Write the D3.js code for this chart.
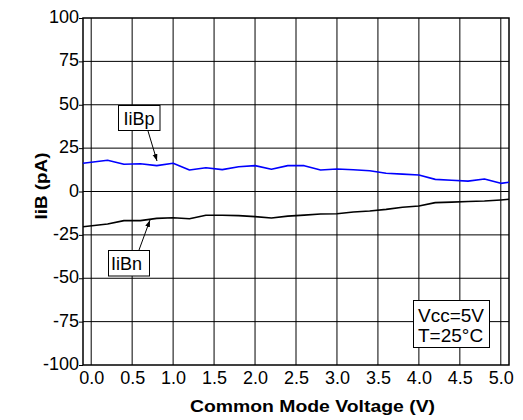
<!DOCTYPE html>
<html>
<head>
<meta charset="utf-8">
<script src="https://cdn.jsdelivr.net/npm/d3@7"></script>
<style>
  html, body { margin: 0; padding: 0; background: #fff; }
  svg { display: block; font-family: "Liberation Sans", Arial, Helvetica, sans-serif; }
</style>
</head>
<body>
<svg id="chart" width="523" height="420"></svg>
<script>
// ---- data ----
const voltage = [-0.1, 0.2, 0.4, 0.6, 0.8, 1.0, 1.2, 1.4, 1.6, 1.8, 2.0, 2.2, 2.4, 2.6, 2.8, 3.0, 3.2, 3.4, 3.6, 3.8, 4.0, 4.2, 4.4, 4.6, 4.8, 5.0, 5.1];
const iibp = [16.3, 18.0, 15.7, 16.0, 14.9, 16.3, 12.4, 13.7, 12.6, 14.3, 14.9, 12.8, 14.9, 14.9, 12.4, 13.0, 12.5, 12.0, 10.5, 10.0, 9.5, 7.0, 6.5, 6.0, 7.2, 4.7, 5.3];
const iibn = [-20.3, -18.7, -16.8, -16.8, -15.5, -15.1, -15.7, -13.7, -13.7, -13.9, -14.5, -15.3, -14.2, -13.6, -13.0, -12.8, -11.8, -11.2, -10.3, -9.1, -8.4, -6.4, -6.1, -5.8, -5.5, -4.9, -4.5];
const xTicks = [0, 0.5, 1.0, 1.5, 2.0, 2.5, 3.0, 3.5, 4.0, 4.5, 5.0];
const yTicks = [-100, -75, -50, -25, 0, 25, 50, 75, 100];
const xDomain = [-0.1, 5.1];
const yDomain = [-100, 100];
const xTitle = "Common Mode Voltage (V)";
const yTitle = "IiB (pA)";
const noteLines = ["Vcc=5V", "T=25°C"];

// ---- layout ----
const L = 83, R = 509, T = 18, B = 365;
const svg = d3.select("#chart");
const x = d3.scaleLinear().domain(xDomain).range([L, R]);
const y = d3.scaleLinear().domain(yDomain).range([B, T]);

svg.append("defs").append("marker")
  .attr("id", "arrow").attr("viewBox", "0 0 10 10")
  .attr("refX", 10).attr("refY", 5)
  .attr("markerWidth", 7).attr("markerHeight", 7)
  .attr("markerUnits", "userSpaceOnUse")
  .attr("orient", "auto")
  .append("path").attr("d", "M0,1.5 L10,5 L0,8.5 Z").attr("fill", "#000");

// grid
const grid = svg.append("g").attr("stroke", "#000").attr("stroke-width", 1);
grid.selectAll("line.v").data(xTicks).join("line")
  .attr("x1", d => x(d)).attr("x2", d => x(d)).attr("y1", T).attr("y2", B);
grid.selectAll("line.h").data(yTicks.filter(d => d > -100 && d < 100)).join("line")
  .attr("x1", L).attr("x2", R).attr("y1", d => y(d)).attr("y2", d => y(d));

// axes
const yAxis = svg.append("g").attr("transform", `translate(${L},0)`)
  .call(d3.axisLeft(y).tickValues(yTicks).tickSize(4).tickPadding(0).tickFormat(d => String(d)));
yAxis.select(".domain").remove();
yAxis.selectAll("line").attr("stroke", "#000");
yAxis.selectAll("text").attr("font-size", 18).attr("dy", "0.25em").attr("fill", "#000")
  .attr("font-family", "Liberation Sans, Arial, sans-serif");

const xAxis = svg.append("g").attr("transform", `translate(0,${B})`)
  .call(d3.axisBottom(x).tickValues(xTicks).tickSize(0).tickPadding(6).tickFormat(d3.format(".1f")));
xAxis.select(".domain").remove();
xAxis.selectAll("text").attr("font-size", 18).attr("fill", "#000")
  .attr("font-family", "Liberation Sans, Arial, sans-serif");

// frame
svg.append("rect").attr("x", L).attr("y", T).attr("width", R - L).attr("height", B - T)
  .attr("fill", "none").attr("stroke", "#000").attr("stroke-width", 1.5);

// lines
const line = d3.line().x((d, i) => x(voltage[i])).y(d => y(d));
svg.append("path").datum(iibp).attr("d", line)
  .attr("fill", "none").attr("stroke", "#0000ff").attr("stroke-width", 1.6).attr("stroke-linejoin", "round");
svg.append("path").datum(iibn).attr("d", line)
  .attr("fill", "none").attr("stroke", "#000").attr("stroke-width", 1.6).attr("stroke-linejoin", "round");

// series labels with arrows
function label(text, bx, by, bw, bh, tx, ty, ax1, ay1, ax2, ay2) {
  svg.append("line").attr("x1", ax1).attr("y1", ay1).attr("x2", ax2).attr("y2", ay2)
    .attr("stroke", "#000").attr("stroke-width", 1).attr("marker-end", "url(#arrow)");
  svg.append("rect").attr("x", bx).attr("y", by).attr("width", bw).attr("height", bh)
    .attr("fill", "#fff").attr("stroke", "#000").attr("stroke-width", 1);
  svg.append("text").attr("x", tx).attr("y", ty).attr("font-size", 18).attr("fill", "#000").text(text);
}
label("IiBp", 118.5, 105.5, 41.5, 25, 123.5, 124.5, 148, 131, 157, 161);
label("IiBn", 108.5, 250.5, 41, 25.5, 111, 270, 139, 250, 150, 220);

// note box
const nb = svg.append("g");
nb.append("rect").attr("x", 413.5).attr("y", 300.5).attr("width", 76).attr("height", 47)
  .attr("fill", "#fff").attr("stroke", "#000").attr("stroke-width", 1);
nb.selectAll("text").data(noteLines).join("text")
  .attr("x", 418).attr("y", (d, i) => 321.5 + i * 20)
  .attr("font-size", 19).attr("fill", "#000").text(d => d);

// titles
svg.append("text").attr("x", 312.5).attr("y", 411.5).attr("text-anchor", "middle")
  .attr("font-size", 17).attr("font-weight", "bold").attr("textLength", 245).attr("lengthAdjust", "spacingAndGlyphs")
  .text(xTitle);
svg.append("text").attr("transform", "translate(47,186) rotate(-90)").attr("text-anchor", "middle")
  .attr("font-size", 17).attr("font-weight", "bold").attr("textLength", 67).attr("lengthAdjust", "spacingAndGlyphs")
  .text(yTitle);
</script>
</body>
</html>
